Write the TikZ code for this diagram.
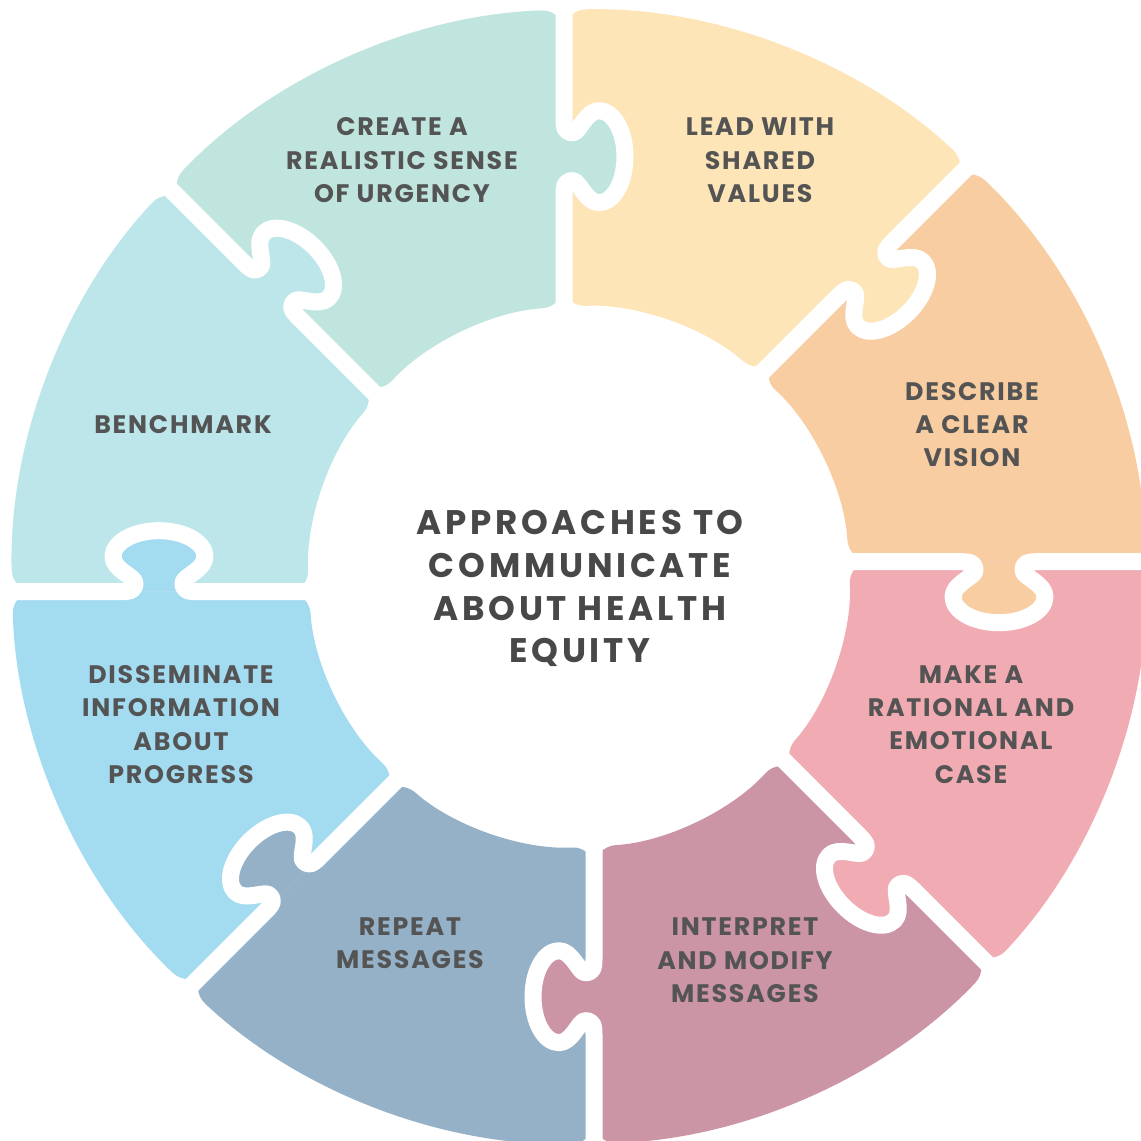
\documentclass[tikz,border=0pt]{standalone}
\usepackage{fontspec}
\setmainfont{Poppins}
\usepackage{tikz}
\usepackage{xcolor}
\definecolor{urgency}{HTML}{BFE5DE}
\definecolor{values}{HTML}{FDE5B8}
\definecolor{vision}{HTML}{F8CDA1}
\definecolor{case}{HTML}{F1ABB2}
\definecolor{modify}{HTML}{CB95A6}
\definecolor{repeatmsg}{HTML}{94B1C7}
\definecolor{progress}{HTML}{A3DBF1}
\definecolor{benchmark}{HTML}{BCE6EA}
\definecolor{labelgray}{HTML}{545454}
\definecolor{titlegray}{HTML}{484848}
\newfontfamily\lblfont[LetterSpace=7]{Poppins}
\newfontfamily\ttlfont[LetterSpace=11]{Poppins}

\begin{document}
\begin{tikzpicture}[
    gap/.style={white,line width=0.17cm,line join=round},
    knob/.style={insert path={
      .. controls (3.93,0.15) and (3.96,0.13) .. (3.96,0.06)
      .. controls (3.96,0.00) and (3.74,-0.07) .. (3.74,-0.20)
      .. controls (3.74,-0.344) and (3.946,-0.46) .. (4.20,-0.46)
      .. controls (4.454,-0.46) and (4.66,-0.344) .. (4.66,-0.20)
      .. controls (4.66,-0.07) and (4.44,0.00) .. (4.44,0.06)
      .. controls (4.44,0.13) and (4.47,0.15) .. (4.58,0.15)}},
    lbl/.style={font=\lblfont\bfseries\fontsize{7.2}{9.5}\selectfont,text=labelgray,align=center},
    ttl/.style={font=\ttlfont\bfseries\fontsize{9.7}{12.2}\selectfont,text=titlegray,align=center}
  ]
  \useasboundingbox (-5.79,-5.643) rectangle (5.62,5.767);

  % ring pieces, each one spans 45 degrees
  \foreach \a/\c in {0/vision,45/values,90/urgency,135/benchmark,180/progress,225/repeatmsg,270/modify,315/case}{
    \begin{scope}[rotate=\a]
      \fill[\c,rounded corners=0.22cm] (4,0.15) -- (5.668,0.15)
        arc[start angle=1.516,end angle=46.516,radius=5.67]
        -- ([rotate=45]2.696,0.15)
        arc[start angle=48.185,end angle=3.185,radius=2.7] -- cycle;
    \end{scope}
  }
  % tabs reach into the next piece clockwise
  \foreach \a/\c in {0/vision,45/values,90/urgency,135/benchmark,180/progress,225/repeatmsg,270/modify,315/case}{
    \begin{scope}[rotate=\a]
      \fill[\c] (3.82,0.15) [knob] -- cycle;
    \end{scope}
  }
  \foreach \a in {0,45,...,315}{
    \begin{scope}[rotate=\a]
      \draw[gap] (2.4,0.15) -- (3.82,0.15) [knob] -- (5.95,0.15);
    \end{scope}
  }

  \node[lbl] (urgencytxt) at (-1.77,4.162) {CREATE A\\REALISTIC SENSE\\OF URGENCY};
  \node[lbl] (valuestxt) at (1.81,4.162) {LEAD WITH\\SHARED\\VALUES};
  \node[lbl] (visiontxt) at (3.93,1.522) {DESCRIBE\\A CLEAR\\VISION};
  \node[lbl] (casetxt) at (3.92,-1.478) {MAKE A\\RATIONAL AND\\EMOTIONAL\\CASE};
  \node[lbl] (modifytxt) at (1.66,-3.838) {INTERPRET\\AND MODIFY\\MESSAGES};
  \node[lbl] (repeattxt) at (-1.69,-3.668) {REPEAT\\MESSAGES};
  \node[lbl] (progresstxt) at (-3.98,-1.478) {DISSEMINATE\\INFORMATION\\ABOUT\\PROGRESS};
  \node[lbl] (benchmarktxt) at (-3.96,1.517) {BENCHMARK};
  \node[ttl] (title) at (0.01,-0.118) {APPROACHES TO\\COMMUNICATE\\ABOUT HEALTH\\EQUITY};
\end{tikzpicture}
\end{document}
